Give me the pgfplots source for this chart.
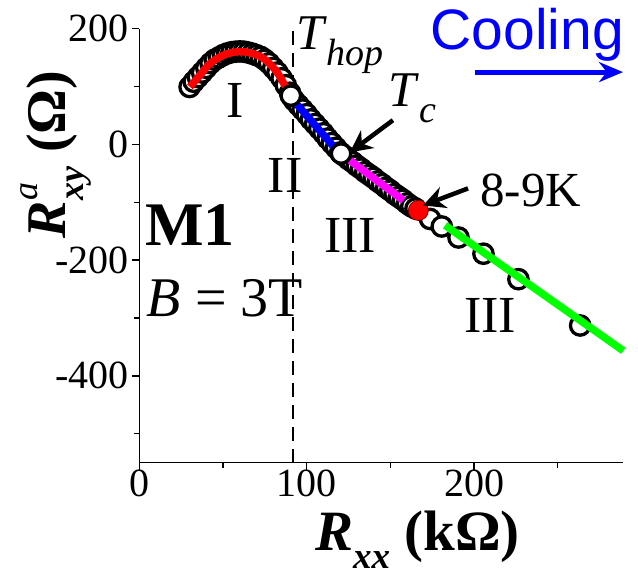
\documentclass[border=0pt]{standalone}
\usepackage{pgfplots}
\pgfplotsset{compat=1.18}
\usepackage{fontspec}
\setmainfont{Liberation Serif}
\newfontfamily\arialfont{Liberation Sans}
\usetikzlibrary{arrows.meta}

\definecolor{fitred}{RGB}{255,0,0}
\definecolor{fitblue}{RGB}{0,0,255}
\definecolor{fitmag}{RGB}{255,0,255}
\definecolor{fitgreen}{RGB}{0,255,0}

\newcommand\fs[1]{\fontsize{#1}{#1}\selectfont}
\newcommand\sub[2]{\raisebox{-0.32em}{\fs{#1}\textit{#2}}}

\begin{document}
\begin{tikzpicture}
\useasboundingbox (-139.4pt,-113.3pt) rectangle (498.6pt,462.7pt);
\begin{axis}[
  scale only axis,
  width=483.6pt, height=434.2pt,
  xmin=0, xmax=289, ymin=-550, ymax=200,
  axis lines*=left,
  axis line style={line width=1.5pt},
  xtick={0,100,200}, ytick={-400,-200,0,200},
  minor xtick={50,150,250}, minor ytick={-500,-300,-100,100},
  tick align=outside,
  major tick length=7pt, minor tick length=5pt,
  every tick/.style={line width=1.3pt, black},
  ticklabel style={font=\fs{40}},
  xticklabel style={yshift=3pt},
  /pgf/number format/assume math mode=true,
  xlabel={\bfseries\textit{R}\sub{37}{xx} (kΩ)},
  xlabel style={at={(rel axis cs:0.575,-0.178)}, anchor=center, font=\fs{57}},
  ylabel={\bfseries\textit{R}\rlap{\raisebox{0.5em}{\fs{36}\mdseries\textit{a}}}\sub{36}{xy} (Ω)},
  ylabel style={at={(rel axis cs:-0.172,0.71)}, anchor=center, font=\fs{56}},
  clip=false,
  clip marker paths=true,
]

% dashed line at the hopping temperature
\addplot[black, line width=2pt, dash pattern=on 14pt off 8pt] coordinates {(92,-550) (92,200)};

% measured points
\addplot[only marks, mark=*, mark size=9.7pt,
  mark options={line width=3.3pt, fill=white, draw=black}] coordinates {
(30,99) (32.5,108) (35,116) (37.5,124) (40,132) (42.5,140) (45,146)
(47.5,150) (50,154) (52.5,157) (55,159) (57.5,160) (60,160.5) (62.5,160)
(65,158.5) (67.5,156.5) (70,154) (72.5,151) (75,146) (77.5,140) (80,132)
(82.5,124) (85,114) (87.5,102) (90,89)
(92.5,76) (95,68) (97.5,60) (100,52) (102.5,43) (105,35) (107.5,27)
(110,19) (112.5,10) (115,2) (117.5,-6) (120,-14)
(122.5,-20) (125,-26) (127.5,-31) (130,-37) (132.5,-42) (135,-48)
(137.5,-53) (140,-58) (142.5,-64) (145,-69) (147.5,-75) (150,-80)
(152.5,-86) (155,-91) (157.5,-96) (160,-102) (162.5,-107) (165,-111)
(173.7,-129) (180.7,-142) (190.7,-161) (205.6,-189) (226.5,-233) (263.4,-313)
};

% fits, on top of the points
\addplot[fitred, line width=7.5pt, smooth] coordinates {
(30.2,99.2) (36.2,119.5) (42.2,139.7) (50.2,154) (58.2,159.8)
(66.1,158) (74.1,148.4) (82.1,125.2) (89,90.6)};
\addplot[fitblue, line width=7.5pt] coordinates {(92,76) (118,-10.4)};
\addplot[fitmag, line width=7.5pt] coordinates {(125.8,-27.7) (157.8,-97)};
\addplot[fitgreen, line width=7.5pt] coordinates {(182.7,-140) (289.2,-356.7)};

% transition points
\addplot[only marks, mark=*, mark size=9.7pt,
  mark options={line width=3.3pt, fill=white, draw=black}] coordinates {
(90.5,84) (120.5,-16)};
\addplot[only marks, mark=*, mark size=10pt,
  mark options={fill=fitred, draw=red!50!black, line width=0.8pt}] coordinates {(166.7,-114.3)};

% annotations
\node[font=\arialfont\fs{57}, text=fitblue, inner sep=0pt] at (axis cs:231.7,188.7) {Cooling};
\draw[fitblue, line width=5pt, -{Stealth[length=24pt, width=20pt]}] (axis cs:200.8,124.7) -- (axis cs:289,124.7);

\node[font=\fs{50}, anchor=west, inner sep=0pt] at (axis cs:93.5,171.4) {\textit{T}\sub{38}{hop}};
\node[font=\fs{50}, anchor=west, inner sep=0pt] at (axis cs:148.6,80) {\textit{T}\sub{38}{c}};
\draw[black, line width=4.5pt, -{Stealth[length=22pt, width=22pt]}] (axis cs:151.5,41.6) -- (axis cs:125.8,-13.9);

\node[font=\fs{49}, anchor=west, inner sep=0pt] at (axis cs:203.6,-79.7) {8-9K};
\draw[black, line width=4.5pt, -{Stealth[length=22pt, width=22pt]}] (axis cs:196.4,-76.2) -- (axis cs:169.5,-105.6);

\node[font=\fs{52}] at (axis cs:57.2,76.2) {I};
\node[font=\fs{52}] at (axis cs:87.2,-53.7) {II};
\node[font=\fs{52}] at (axis cs:125.9,-157.6) {III};
\node[font=\fs{52}] at (axis cs:209.6,-296) {III};

\node[font=\bfseries\fs{62}] at (axis cs:30.2,-140.3) {M1};
\node[font=\fs{56}] at (axis cs:51.1,-266.7) {\textit{B} = 3T};
\end{axis}
\end{tikzpicture}
\end{document}
